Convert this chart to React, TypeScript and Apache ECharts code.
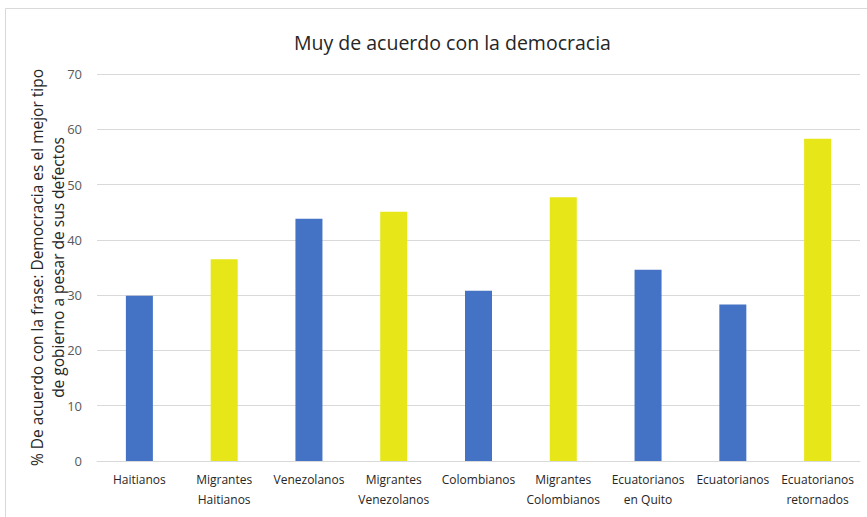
import React, { useEffect, useRef } from "react";
import * as echarts from "echarts";

const categories = [
  "Haitianos",
  "Migrantes\nHaitianos",
  "Venezolanos",
  "Migrantes\nVenezolanos",
  "Colombianos",
  "Migrantes\nColombianos",
  "Ecuatorianos\nen Quito",
  "Ecuatorianos",
  "Ecuatorianos\nretornados",
];
const values = [29.9, 36.5, 43.8, 45.1, 30.8, 47.7, 34.6, 28.3, 58.3];
const groups = ["local", "migrant", "local", "migrant", "local", "migrant", "local", "local", "migrant"];
const groupColors: Record<string, string> = { local: "#4472C4", migrant: "#E6E619" };
const yTicks = [0, 10, 20, 30, 40, 50, 60, 70];

const FONT = "'Open Sans', sans-serif";

export default function App() {
  const ref = useRef<HTMLDivElement>(null);
  useEffect(() => {
    if (!ref.current) return;
    const chart = echarts.init(ref.current, undefined, { renderer: "svg" });
    chart.setOption({
      animation: false,
      backgroundColor: "#ffffff",
      title: {
        text: "Muy de acuerdo con la democracia",
        left: 289,
        top: 27,
        textStyle: { fontFamily: FONT, fontSize: 19.5, fontWeight: "normal", color: "#262626" },
      },
      graphic: [
        {
          type: "rect",
          shape: { x: 5.5, y: 8.5, width: 900, height: 600 },
          style: { fill: "none", stroke: "#d9d9d9", lineWidth: 1 },
          silent: true,
          z: -1,
        },
      ],
      grid: { left: 97, right: 7, top: 74, bottom: 56 },
      xAxis: {
        type: "category",
        data: categories,
        axisLine: { lineStyle: { color: "#d9d9d9" } },
        axisTick: { show: false },
        axisLabel: {
          interval: 0,
          fontFamily: FONT,
          fontSize: 12,
          color: "#262626",
          margin: 8,
          lineHeight: 20,
        },
      },
      yAxis: {
        type: "value",
        min: yTicks[0],
        max: yTicks[yTicks.length - 1],
        interval: 10,
        name: "% De acuerdo con la frase: Democracia es el mejor tipo\nde gobierno a pesar de sus defectos",
        nameLocation: "middle",
        nameGap: 29,
        nameMoveOverlap: false,
        nameTextStyle: {
          fontFamily: FONT,
          fontSize: 15.5,
          color: "#262626",
          lineHeight: 21,
          fontWeight: 500,
        },
        axisLine: { show: false },
        axisTick: { show: false },
        splitLine: { lineStyle: { color: "#d9d9d9" } },
        axisLabel: { fontFamily: FONT, fontSize: 13, color: "#595959", margin: 15 },
      },
      series: [
        {
          type: "bar",
          barWidth: 27,
          data: values.map((v, i) => ({ value: v, itemStyle: { color: groupColors[groups[i]] } })),
        },
      ],
    });
    return () => chart.dispose();
  }, []);
  return <div ref={ref} style={{ width: 867, height: 517, position: "absolute", left: 0, top: 0 }} />;
}
